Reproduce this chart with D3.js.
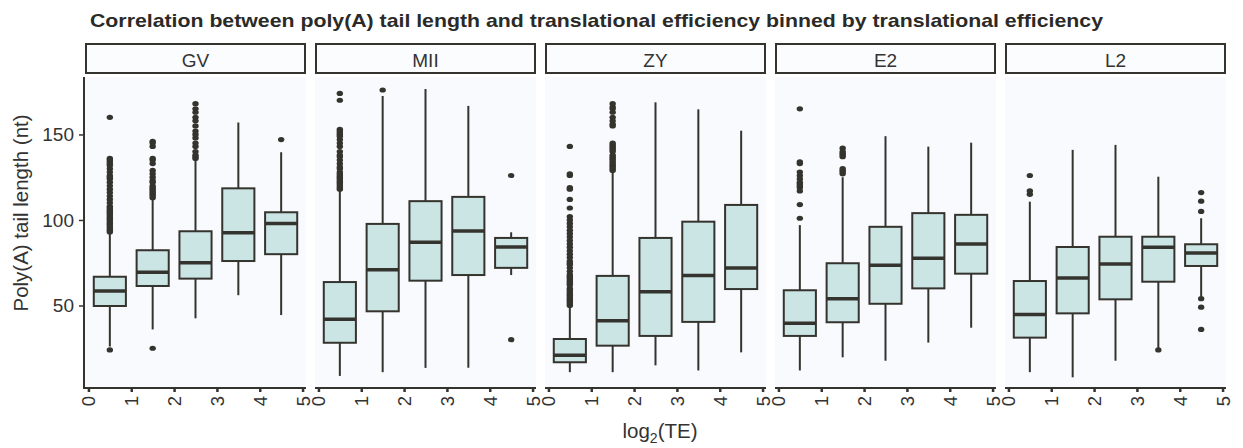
<!DOCTYPE html>
<html>
<head>
<meta charset="utf-8">
<script src="https://cdn.jsdelivr.net/npm/d3@7"></script>
<style>
  body { margin: 0; background: #fff; }
  text { font-family: "Liberation Sans", Arial, sans-serif; fill: #333; }
</style>
</head>
<body>
<svg id="chart"></svg>
<script>
// DATOS
const stages = ["GV", "MII", "ZY", "E2", "L2"];
const teBins = [0.5, 1.5, 2.5, 3.5, 4.5];
const xTicks = [0, 1, 2, 3, 4, 5];
const yTicks = [50, 100, 150];

// una fila por estadio, una columna por bin de TE
const whiskerLow = [
  [26, 36, 42.5, 56, 44.4],
  [8.8, 11, 13.5, 13.6, 67.8],
  [11, 11, 15, 12, 22.6],
  [12, 19.7, 17.7, 28.3, 37],
  [11, 8, 17.7, 25, 55.2]
];
const q1 = [
  [49.7, 61.4, 65.7, 76, 80],
  [28.2, 46.6, 64.5, 67.8, 72],
  [16.8, 26.5, 32.2, 40.4, 59.6],
  [32.2, 40.2, 51, 60, 68.6],
  [31.2, 45.4, 53.6, 63.9, 73.1]
];
const median = [
  [58.5, 69.4, 75, 92.6, 98],
  [41.9, 70.9, 87, 93.6, 84.2],
  [20.9, 41, 58.1, 67.6, 71.9],
  [39.6, 54, 73.5, 77.6, 86],
  [44.8, 66, 74.3, 84, 80.7]
];
const q3 = [
  [66.8, 82.3, 93.4, 118.5, 104.5],
  [63.7, 97.7, 111, 113.5, 89.5],
  [30.4, 67.3, 89.5, 99, 108.8],
  [58.9, 74.7, 96, 104, 103],
  [64.3, 84.2, 90.2, 90.2, 85.8]
];
const whiskerHigh = [
  [92.2, 112.7, 135, 157, 139.6],
  [117, 172.5, 176.6, 166.7, 92.8],
  [49.7, 128.3, 168.8, 164.7, 152.2],
  [97, 125, 149, 142.9, 145.2],
  [110.7, 141, 143.9, 125.3, 101]
];
// outliers: por estadio, por bin
const outliers = [
  [
    [24, 93, 94, 95, 96, 97, 98, 99, 100, 101, 102, 103, 104, 105, 106, 107, 108, 110, 112, 114, 116, 118, 120, 122, 124, 125, 126, 128, 130, 132, 133, 134, 135, 136, 160],
    [25, 113, 114, 115, 116, 117, 118, 119, 120, 122, 123, 125, 127, 129, 133, 135, 136, 143, 145, 146],
    [136, 137, 138, 140, 143, 145, 148, 150, 152, 155, 158, 160, 163, 165, 168],
    [],
    [147]
  ],
  [
    [118, 119, 120, 121, 122, 123, 124, 125, 126, 127, 128, 130, 131, 133, 135, 137, 138, 140, 143, 145, 147, 149, 150, 151, 152, 153, 170, 174],
    [176],
    [],
    [],
    [30, 126]
  ],
  [
    [50, 51, 52, 53, 54, 55, 56, 57, 58, 59, 60, 62, 63, 64, 65, 66, 67, 68, 70, 72, 74, 75, 76, 78, 80, 82, 84, 86, 88, 90, 92, 94, 96, 98, 100, 102, 107, 112, 118, 119, 126, 127, 143],
    [129, 130, 131, 132, 133, 134, 135, 136, 137, 138, 140, 141, 142, 143, 144, 145, 155, 156, 158, 160, 163, 165, 166, 168],
    [],
    [],
    []
  ],
  [
    [101, 109, 117, 119, 120, 121, 122, 124, 126, 128, 133, 134, 165],
    [127, 128, 129, 130, 137, 138, 139, 140, 142],
    [],
    [],
    []
  ],
  [
    [115, 117, 126],
    [],
    [],
    [24],
    [36, 49, 54, 105, 111, 116]
  ]
];

// MEDIDAS
const width = 1243;
const height = 448;
const panelLeft = 85;
const panelW = 221;
const panelGap = 9;
const panelTop = 77;
const panelBottom = 388;
const stripTop = 44;
const stripBottom = 73;
const ink = "#35332e";

const svg = d3.select("#chart")
  .attr("width", width)
  .attr("height", height);

// ESCALA Y (compartida)
const y = d3.scaleLinear()
  .domain([1.75, 183.6])
  .range([panelBottom, panelTop]);

// TITULO
svg.append("text")
  .attr("x", 90)
  .attr("y", 27)
  .attr("textLength", 1013)
  .attr("lengthAdjust", "spacingAndGlyphs")
  .style("font-size", "18.5px")
  .style("font-weight", "bold")
  .style("fill", "#2b2a27")
  .text("Correlation between poly(A) tail length and translational efficiency binned by translational efficiency");

stages.forEach((stage, s) => {
  const x0 = panelLeft + s * (panelW + panelGap);
  const x = d3.scaleLinear()
    .domain([-0.08, 5.08])
    .range([x0, x0 + panelW]);
  const boxW = x(0.75) - x(0);

  const g = svg.append("g");

  // fondo del panel
  g.append("rect")
    .attr("x", x0)
    .attr("y", panelTop)
    .attr("width", panelW)
    .attr("height", panelBottom - panelTop)
    .attr("fill", "#f8fafd");

  // strip
  g.append("rect")
    .attr("x", x0 + 1)
    .attr("y", stripTop)
    .attr("width", panelW - 2)
    .attr("height", stripBottom - stripTop)
    .attr("fill", "#fbfcfe")
    .attr("stroke", ink)
    .attr("stroke-width", 2);
  g.append("text")
    .attr("x", x0 + panelW / 2)
    .attr("y", 67)
    .attr("text-anchor", "middle")
    .style("font-size", "19px")
    .text(stage);

  // CAJAS
  teBins.forEach((b, i) => {
    const cx = x(b);
    g.append("line")
      .attr("x1", cx).attr("x2", cx)
      .attr("y1", y(whiskerHigh[s][i])).attr("y2", y(q3[s][i]))
      .attr("stroke", ink).attr("stroke-width", 2);
    g.append("line")
      .attr("x1", cx).attr("x2", cx)
      .attr("y1", y(q1[s][i])).attr("y2", y(whiskerLow[s][i]))
      .attr("stroke", ink).attr("stroke-width", 2);
    g.append("rect")
      .attr("x", cx - boxW / 2)
      .attr("y", y(q3[s][i]))
      .attr("width", boxW)
      .attr("height", y(q1[s][i]) - y(q3[s][i]))
      .attr("fill", "#cbe5e5")
      .attr("stroke", ink)
      .attr("stroke-width", 2);
    g.append("line")
      .attr("x1", cx - boxW / 2).attr("x2", cx + boxW / 2)
      .attr("y1", y(median[s][i])).attr("y2", y(median[s][i]))
      .attr("stroke", ink).attr("stroke-width", 3.5);
    g.selectAll(null)
      .data(outliers[s][i])
      .enter()
      .append("ellipse")
      .attr("cx", cx)
      .attr("cy", d => y(d))
      .attr("rx", 3.2)
      .attr("ry", 2.6)
      .attr("fill", ink);
  });

  // EJE X
  const ax = g.append("g")
    .attr("transform", `translate(0,${panelBottom})`)
    .call(d3.axisBottom(x).tickValues(xTicks).tickFormat(d3.format("d")).tickSize(4).tickSizeOuter(0));
  ax.select(".domain").remove();
  ax.selectAll(".tick line").attr("stroke", ink).attr("stroke-width", 2.5);
  ax.selectAll(".tick text")
    .attr("transform", "rotate(-90)")
    .attr("text-anchor", "end")
    .attr("x", -8)
    .attr("y", 0)
    .attr("dy", "0.35em")
    .style("font-size", "18.5px")
    .style("font-family", "'Liberation Sans', Arial, sans-serif")
    .attr("fill", "#333");
  g.append("line")
    .attr("x1", x0).attr("x2", x0 + panelW)
    .attr("y1", panelBottom).attr("y2", panelBottom)
    .attr("stroke", ink).attr("stroke-width", 2);
});

// EJE Y
const ay = svg.append("g")
  .attr("transform", `translate(${panelLeft - 1},0)`)
  .call(d3.axisLeft(y).tickValues(yTicks).tickSize(5).tickSizeOuter(0).tickPadding(5));
ay.select(".domain").remove();
ay.selectAll(".tick line").attr("stroke", ink).attr("stroke-width", 1.5);
ay.selectAll(".tick text")
  .style("font-size", "19px")
  .style("font-family", "'Liberation Sans', Arial, sans-serif")
  .attr("fill", "#333");
svg.append("line")
  .attr("x1", panelLeft - 1).attr("x2", panelLeft - 1)
  .attr("y1", panelTop).attr("y2", panelBottom + 1)
  .attr("stroke", ink).attr("stroke-width", 2);

// TITULOS DE EJES
svg.append("text")
  .attr("transform", "translate(28,213) rotate(-90)")
  .attr("text-anchor", "middle")
  .style("font-size", "20.5px")
  .text("Poly(A) tail length (nt)");

const xl = svg.append("text")
  .attr("x", 660)
  .attr("y", 438)
  .attr("text-anchor", "middle")
  .style("font-size", "20.5px");
xl.append("tspan").text("log");
xl.append("tspan").attr("dy", 5).style("font-size", "14px").text("2");
xl.append("tspan").attr("dy", -5).text("(TE)");
</script>
</body>
</html>
